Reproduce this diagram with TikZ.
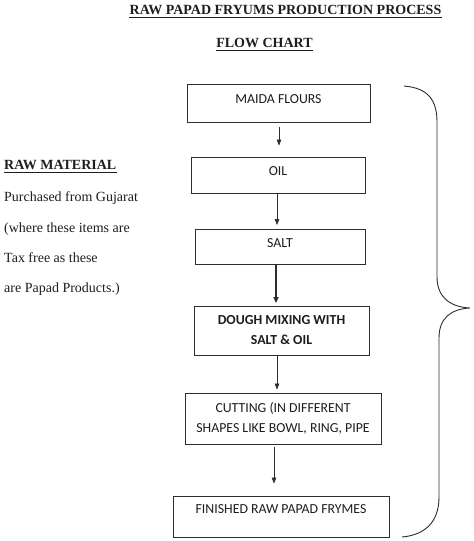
\documentclass[tikz,border=0pt]{standalone}
\usepackage{fontspec}
\setmainfont{Liberation Serif}
\newfontfamily\boxfont{Carlito}
\usetikzlibrary{arrows.meta,calc}
\definecolor{ink}{RGB}{30,30,30}
\definecolor{linec}{RGB}{45,45,45}
\tikzset{
  stepbox/.style={draw=linec,line width=0.8pt,inner sep=0pt,align=center,
    font=\boxfont\fontsize{13.8}{20}\selectfont,text=ink},
  flowarrow/.style={draw=linec,line width=0.7pt,-{Triangle[length=6pt,width=4.5pt]}},
  heavyarrow/.style={flowarrow,line width=1.6pt,-{Triangle[length=6pt,width=5pt]}},
  heading/.style={font=\fontsize{14}{16}\selectfont\bfseries,text=ink,inner sep=0pt},
  sidetext/.style={font=\fontsize{14}{16}\selectfont,text=ink,inner sep=0pt,anchor=base west},
  uline/.style={draw=ink,line width=0.9pt},
  bracec/.style={draw=linec,line width=0.9pt}
}
\begin{document}
\begin{tikzpicture}[x=1pt,y=-1pt]
\useasboundingbox[fill=white] (0,0) rectangle (474,541);
% headings
\node[heading,anchor=base] (title) at (285.5,14) {RAW PAPAD FRYUMS PRODUCTION PROCESS};
\draw[uline] ([yshift=-3pt]title.base west) -- ([yshift=-3pt]title.base east);
\node[heading,anchor=base] (flow) at (264.5,47) {FLOW CHART};
\draw[uline] ([yshift=-3pt]flow.base west) -- ([yshift=-3pt]flow.base east);
% side text
\node[heading,anchor=base west] (raw) at (4,169) {RAW MATERIAL};
\draw[uline] ([yshift=-3.5pt]raw.base west) -- ([yshift=-3.5pt]raw.base east);
\node[sidetext] (l1) at (4,201) {Purchased from Gujarat};
\node[sidetext] (l2) at (4,232) {(where these items are};
\node[sidetext] (l3) at (4,262) {Tax free as these};
\node[sidetext] (l4) at (4,292) {are Papad Products.)};
% boxes
\node[stepbox,minimum width=183pt,minimum height=38pt,text height=9pt,text depth=9pt] (maida) at (278.5,103) {MAIDA FLOURS};
\node[stepbox,minimum width=174pt,minimum height=36pt,text height=9pt,text depth=9pt] (oil) at (278,175) {OIL};
\node[stepbox,minimum width=170pt,minimum height=35pt,text height=9pt,text depth=8pt] (salt) at (280,246.5) {SALT};
\node[stepbox,minimum width=175pt,minimum height=49pt] (dough) at (281.5,330.5) {\bfseries DOUGH MIXING WITH\\\bfseries SALT \& OIL};
\node[stepbox,minimum width=196pt,minimum height=51pt] (cut) at (283,418.5) {CUTTING (IN DIFFERENT\\SHAPES LIKE BOWL, RING, PIPE};
\node[stepbox,minimum width=216pt,minimum height=41pt,text height=9pt,text depth=16pt] (fin) at (281,516.5) {FINISHED RAW PAPAD FRYMES};
% arrows
\draw[flowarrow,shorten <=5pt,shorten >=11pt] ([xshift=0.5pt]maida.south) -- ([xshift=0.5pt]maida.south |- oil.north);
\draw[flowarrow,shorten >=3.5pt] ([xshift=-1pt]oil.south) -- ([xshift=-1pt]oil.south |- salt.north);
\draw[heavyarrow,shorten >=2.5pt] ([xshift=-4pt]salt.south) -- ([xshift=-4pt]salt.south |- dough.north);
\draw[flowarrow,shorten >=3pt] ([xshift=-4.5pt]dough.south) -- ([xshift=-4.5pt]dough.south |- cut.north);
\draw[flowarrow,shorten <=3pt,shorten >=12pt] ([xshift=-9pt]cut.south) -- ([xshift=-9pt]cut.south |- fin.north);
% brace
\coordinate (btop) at (404,86);
\coordinate (btip) at (470,308);
\coordinate (bbot) at (402,537);
\draw[bracec] (btop) .. controls (428,88) and (437,100) .. (437,122) -- (437,277)
  .. controls (437,297) and (450,307) .. (btip)
  .. controls (451,309) and (439,318) .. (439,338) -- (439,497)
  .. controls (439,522) and (425,535) .. (bbot);
\end{tikzpicture}
\end{document}
